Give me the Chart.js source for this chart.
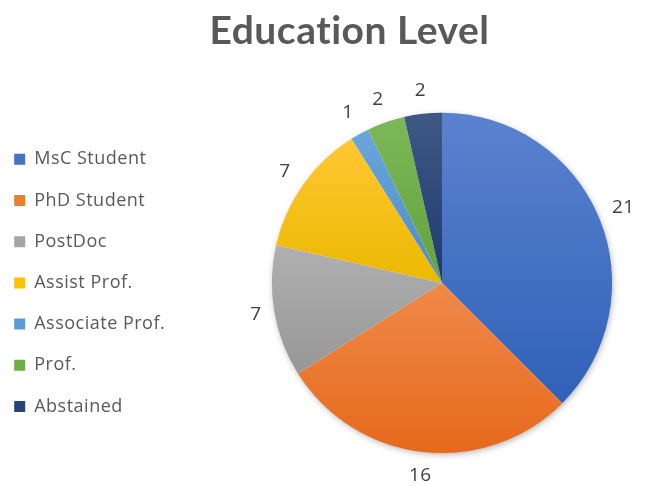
<!DOCTYPE html>
<html>
<head>
<meta charset="utf-8">
<script src="https://cdn.jsdelivr.net/npm/chart.js@4/dist/chart.umd.min.js"></script>
<style>
    html, body { margin: 0; padding: 0; background: #ffffff; }
    #wrap { position: relative; width: 646px; height: 486px; }
</style>
</head>
<body>
<div id="wrap"><canvas id="eduChart"></canvas></div>
<script>
// data
const categories = ['MsC Student', 'PhD Student', 'PostDoc', 'Assist Prof.', 'Associate Prof.', 'Prof.', 'Abstained'];
const counts = [21, 16, 7, 7, 1, 2, 2];

// office-like palette, plus lighter / darker ends for the slice gradients
const baseColors = ['#4472C4', '#ED7D31', '#A5A5A5', '#FFC000', '#5B9BD5', '#70AD47', '#264478'];
const topColors = ['#5B82CF', '#F0894A', '#B0B0B0', '#FFC833', '#6BA6DA', '#7DB858', '#3F5886'];
const bottomColors = ['#2F61B8', '#E6691C', '#979797', '#EBB800', '#4A8CCB', '#62A23B', '#1E3A6E'];

const LEGEND_WIDTH = 247;

//make the legend column wider so the pie sits further right
const legendWidth = {
    id: 'legendWidth',
    afterInit(chart) {
        const fit = chart.legend.fit;
        chart.legend.fit = function () {
            fit.call(this);
            this.width = LEGEND_WIDTH;
        };
    }
};

//slightly wider letter spacing for all chart text, no ligatures
const textSpacing = {
    id: 'textSpacing',
    beforeDraw(chart) {
        chart.ctx.letterSpacing = '0.5px';
        chart.ctx.textRendering = 'optimizeSpeed';
    },
    afterDraw(chart) {
        chart.ctx.letterSpacing = '0px';
        chart.ctx.textRendering = 'auto';
    }
};

//shadow behind pie + gradient fill per slice
const sliceShade = {
    id: 'sliceShade',
    beforeDatasetsDraw(chart) {
        const c = chart.ctx;
        const arcs = chart.getDatasetMeta(0).data;
        if (!arcs.length) return;

        const first = arcs[0];
        c.save();
        c.shadowColor = 'rgba(0,0,0,0.35)';
        c.shadowBlur = 7;
        c.shadowOffsetX = 1;
        c.shadowOffsetY = 2;
        c.fillStyle = '#ffffff';
        c.beginPath();
        c.arc(first.x, first.y, first.outerRadius - 1, 0, Math.PI * 2);
        c.fill();
        c.restore();

        arcs.forEach((arc, i) => {
            const {x, y, startAngle, endAngle, outerRadius} = arc;
            let top = y;
            let bottom = y;
            const angles = [startAngle, endAngle];
            for (let a = -Math.PI * 2.5; a <= Math.PI * 2.5; a += Math.PI / 2) {
                if (a > startAngle && a < endAngle) angles.push(a);
            }
            angles.forEach(a => {
                const py = y + Math.sin(a) * outerRadius;
                top = Math.min(top, py);
                bottom = Math.max(bottom, py);
            });
            const grad = c.createLinearGradient(0, top, 0, bottom);
            grad.addColorStop(0, topColors[i]);
            grad.addColorStop(1, bottomColors[i]);
            arc.options = {...arc.options, backgroundColor: grad, borderColor: grad};
        });
    }
};

//value labels just outside each slice (text box kept a fixed gap from the edge)
const outsideLabels = {
    id: 'outsideLabels',
    afterDatasetsDraw(chart) {
        const c = chart.ctx;
        const arcs = chart.getDatasetMeta(0).data;
        c.save();
        c.font = '19px "Open Sans", sans-serif';
        c.fillStyle = '#404040';
        c.textAlign = 'center';
        c.textBaseline = 'middle';
        arcs.forEach((arc, i) => {
            const text = String(counts[i]);
            const halfW = c.measureText(text).width / 2;
            const halfH = 12;
            const mid = (arc.startAngle + arc.endAngle) / 2;
            const cos = Math.cos(mid);
            const sin = Math.sin(mid);
            const r = arc.outerRadius + 11 + Math.abs(cos) * halfW + Math.abs(sin) * halfH;
            c.fillText(text, arc.x + cos * r, arc.y + sin * r);
        });
        c.restore();
    }
};

const ctx = document.getElementById('eduChart').getContext('2d');
new Chart(ctx, {
    type: 'pie',
    data: {
        labels: categories,
        datasets: [{
            data: counts,
            backgroundColor: baseColors,
            borderColor: baseColors,
            borderWidth: 0
        }]
    },
    options: {
        responsive: true,
        maintainAspectRatio: false,
        animation: false,
        layout: {
            padding: { top: 0, bottom: 33, left: -9, right: -62 }
        },
        plugins: {
            title: {
                display: true,
                text: 'Education Level',
                color: '#595959',
                font: { family: 'Lato, "Open Sans", sans-serif', size: 39, weight: 'bold', lineHeight: 1.2 },
                padding: { top: 8, bottom: 58 }
            },
            legend: {
                position: 'left',
                fullSize: false,
                labels: {
                    color: '#595959',
                    boxWidth: 11,
                    boxHeight: 11,
                    padding: 23.2,
                    font: { family: '"Open Sans", sans-serif', size: 18, lineHeight: 1 }
                }
            },
            tooltip: { enabled: false }
        }
    },
    plugins: [legendWidth, textSpacing, sliceShade, outsideLabels]
});
</script>
</body>
</html>
